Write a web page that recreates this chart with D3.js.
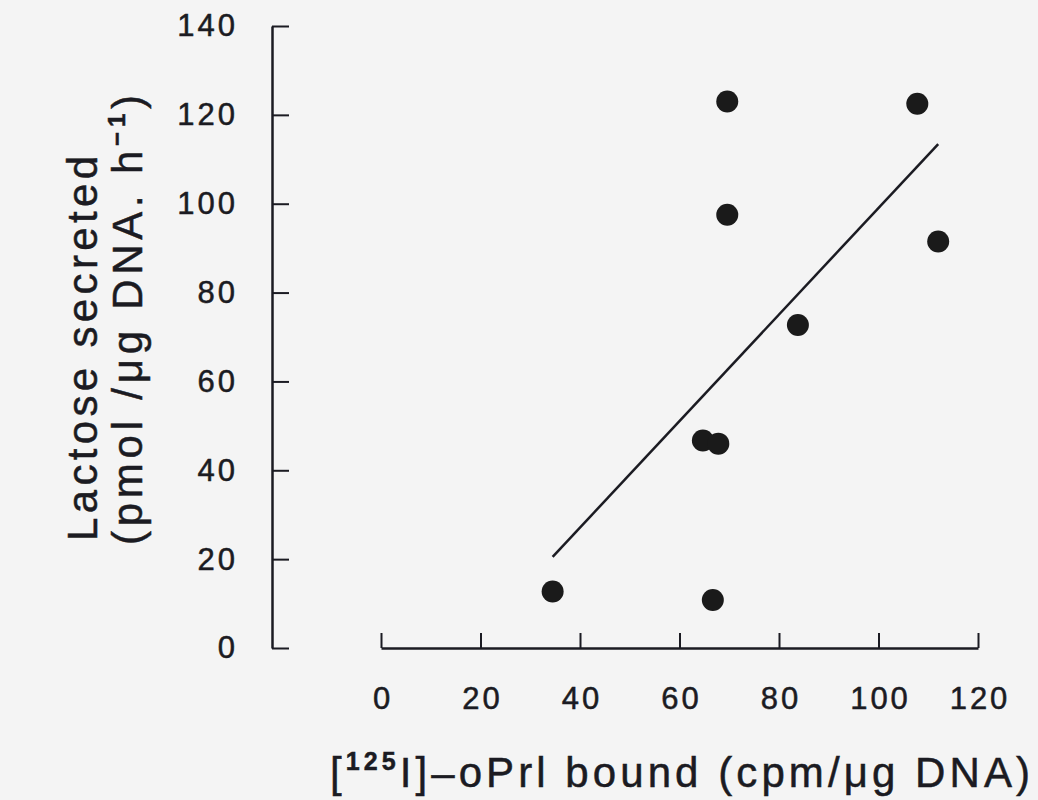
<!DOCTYPE html>
<html>
<head>
<meta charset="utf-8">
<script src="https://cdn.jsdelivr.net/npm/d3@7"></script>
<style>
  body { margin: 0; background: #f4f4f4; }
  svg { display: block; font-family: "Liberation Sans", Arial, sans-serif; }
  text { stroke: #1b1b22; stroke-width: 0.5px; }
</style>
</head>
<body>
<div id="chart"></div>
<script>
// data
const boundX = [34.5, 64.7, 67.8, 66.7, 69.6, 69.6, 83.8, 107.8, 112.0];
const lactoseY = [12.7, 46.7, 46.0, 10.8, 123.0, 97.5, 72.7, 122.5, 91.5];
const xTicks = [0, 20, 40, 60, 80, 100, 120];
const yTicks = [0, 20, 40, 60, 80, 100, 120, 140];

const width = 1038;
const height = 800;
const ink = "#1b1b22";

const svg = d3
  .select("#chart")
  .append("svg")
  .attr("width", width)
  .attr("height", height);

const xScale = d3.scaleLinear().domain([0, 120]).range([381, 978]);
const yScale = d3.scaleLinear().domain([0, 140]).range([648, 26]);

// x axis (ticks pointing up, no line to the left of 0)
svg
  .append("g")
  .attr("transform", `translate(0, ${yScale(0)})`)
  .call(
    d3
      .axisBottom(xScale)
      .tickValues(xTicks)
      .tickSizeInner(-15)
      .tickSizeOuter(0)
      .tickPadding(39)
  )
  .call((g) => g.select(".domain").attr("stroke", ink).attr("stroke-width", 2.5))
  .call((g) => g.selectAll(".tick line").attr("stroke", ink).attr("stroke-width", 2))
  .call((g) =>
    g
      .selectAll(".tick text")
      .attr("fill", ink)
      .attr("dx", "1.5px")
      .style("font-size", "31px")
      .style("letter-spacing", "3px")
  );

// y axis (ticks pointing right)
svg
  .append("g")
  .attr("transform", "translate(272,0)")
  .call(
    d3
      .axisLeft(yScale)
      .tickValues(yTicks)
      .tickSizeInner(-17)
      .tickSizeOuter(0)
      .tickPadding(34)
  )
  .call((g) => g.select(".domain").attr("stroke", ink).attr("stroke-width", 2.5))
  .call((g) => g.selectAll(".tick line").attr("stroke", ink).attr("stroke-width", 2))
  .call((g) =>
    g
      .selectAll(".tick text")
      .attr("fill", ink)
      .style("font-size", "31px")
      .style("letter-spacing", "3px")
  );

// regression line
const pts = boundX.map((x, i) => ({ x: x, y: lactoseY[i] }));
const xMean = d3.mean(pts, (d) => d.x);
const yMean = d3.mean(pts, (d) => d.y);
const slope =
  d3.sum(pts, (d) => (d.x - xMean) * (d.y - yMean)) /
  d3.sum(pts, (d) => (d.x - xMean) * (d.x - xMean));
const intercept = yMean - slope * xMean;
const xExt = d3.extent(pts, (d) => d.x);

const line = d3
  .line()
  .x((d) => xScale(d))
  .y((d) => yScale(slope * d + intercept));

svg
  .append("path")
  .datum(xExt)
  .attr("fill", "none")
  .attr("stroke", ink)
  .attr("stroke-width", 2.5)
  .attr("d", line);

// points
svg
  .selectAll(".dot")
  .data(pts)
  .enter()
  .append("circle")
  .attr("class", "dot")
  .attr("cx", (d) => xScale(d.x))
  .attr("cy", (d) => yScale(d.y))
  .attr("r", 11)
  .attr("fill", "#1a1a1a");

// spread the letters so the text spans the target width
const fitText = (sel, target) => {
  const w = sel.node().getBBox().width;
  const n = sel.text().length;
  sel.style("letter-spacing", `${(target - w) / (n - 1)}px`);
};

// x title
const xTitle = svg
  .append("g")
  .attr("transform", "translate(330,787)")
  .append("text")
  .attr("fill", ink)
  .style("font-size", "42px");
xTitle.append("tspan").text("[");
xTitle
  .append("tspan")
  .attr("dy", -17)
  .style("font-size", "25px")
  .style("font-weight", "bold")
  .text("125");
xTitle.append("tspan").attr("dy", 17).text("I]–oPrl bound (cpm/μg DNA)");
fitText(xTitle, 700);

// y title, two lines
const yTitle1 = svg
  .append("g")
  .attr("transform", "translate(97,541) rotate(-90)")
  .append("text")
  .attr("fill", ink)
  .style("font-size", "42px")
  .text("Lactose secreted");
fitText(yTitle1, 385);

const yTitle2 = svg
  .append("g")
  .attr("transform", "translate(142,545) rotate(-90)")
  .append("text")
  .attr("fill", ink)
  .style("font-size", "42px");
yTitle2.append("tspan").text("(pmol /μg DNA. h");
yTitle2
  .append("tspan")
  .attr("dy", -17)
  .style("font-size", "24px")
  .style("font-weight", "bold")
  .text("−1");
yTitle2.append("tspan").attr("dy", 17).text(")");
fitText(yTitle2, 450);
</script>
</body>
</html>
